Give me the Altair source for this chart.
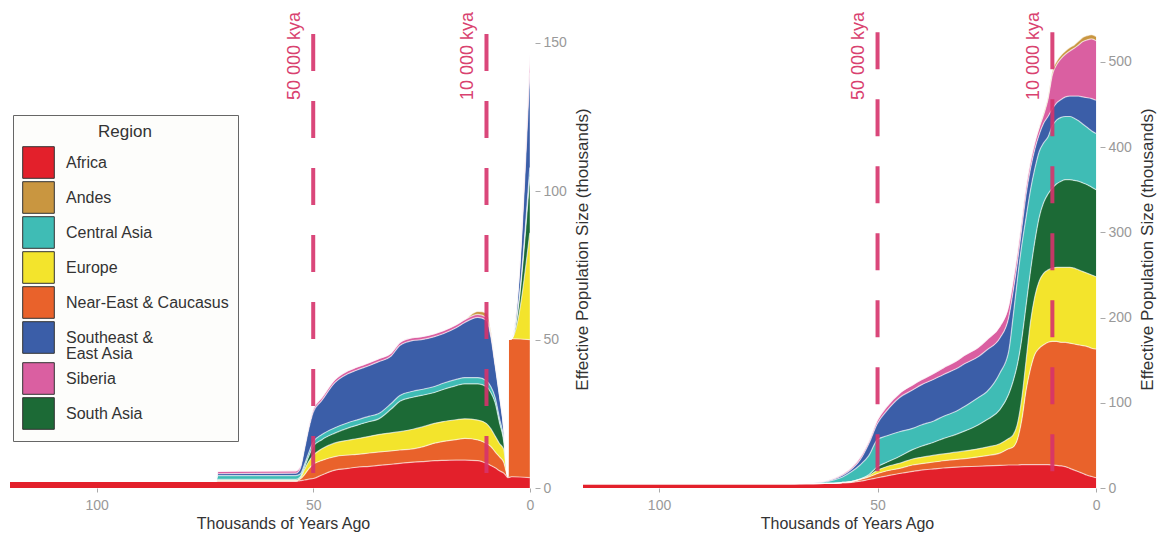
import altair as alt
import pandas as pd

# ---------------- categories & colours ----------------
LEGEND_ORDER = ["Africa", "Andes", "Central Asia", "Europe", "Near-East & Caucasus",
                "Southeast & East Asia", "Siberia", "South Asia"]
COLORS = ["#e3202b", "#c99640", "#3fbcb5", "#f3e42c", "#e9622b",
          "#3b5ea8", "#da5fa1", "#1c6a36"]
STACK_ORDER = ["Africa", "Near-East & Caucasus", "Europe", "South Asia",
               "Central Asia", "Southeast & East Asia", "Siberia", "Andes"]

# ---------------- left panel (thousands of years ago) ----------------
KYA_L = [120, 72.5, 72, 54, 53, 52, 51, 50, 48, 45, 42, 40, 37, 35, 32, 30, 27, 25,
         22, 20, 17, 15, 12, 10, 9, 8, 7, 6, 5.5, 5.1, 5.0, 4.2, 0]
AFRICA_L = [2.2, 2.2, 2.2, 2.2, 2.5, 2.7, 3.0, 3.2, 4.4, 6.0, 6.6, 7.0, 7.3, 7.6, 8.0, 8.3, 8.7, 8.9,
            9.2, 9.3, 9.4, 9.4, 9.2, 8.3, 7.6, 6.8, 5.8, 5.0, 4.2, 3.5, 3.5, 3.8, 3.5]
NEAREAST_L = [0, 0, 0.2, 0.2, 0.5, 1.8, 3.5, 4.8, 4.9, 4.6, 4.5, 4.3, 4.5, 4.5, 4.5, 4.5, 4.5, 4.9,
              5.9, 6.4, 6.9, 7.3, 7.0, 6.7, 6.4, 5.4, 4.7, 3.6, 1.5, 0.5, 46.5, 46.5, 46.5]
EUROPE_L = [0, 0, 0.2, 0.2, 0.4, 1.8, 2.5, 3.0, 3.9, 4.6, 5.0, 5.3, 5.6, 5.9, 6.1, 6.2, 6.6, 6.7,
            6.7, 6.7, 6.7, 6.6, 6.7, 6.7, 6.0, 5.3, 4.5, 4.4, 1.5, 0, 0, 0, 36]
SOUTHASIA_L = [0, 0, 0.3, 0.3, 0.3, 0.7, 1.8, 3.0, 3.1, 3.3, 4.1, 4.5, 5.0, 5.2, 8.0, 10.2, 10.8, 10.7,
               10.4, 10.8, 11.5, 11.8, 12.2, 12.4, 12.2, 11.2, 7.0, 2.5, 1.2, 0, 0, 0, 19]
CENTRALASIA_L = [0, 0, 1.3, 1.3, 1.0, 1.0, 1.2, 1.5, 1.7, 1.8, 1.8, 1.8, 1.8, 1.8, 1.9, 2.0, 2.0, 2.0,
                 2.0, 2.1, 2.1, 2.1, 2.1, 2.0, 2.0, 1.8, 1.5, 1.0, 0.5, 0, 0, 0, 3]
SEASIA_L = [0, 0, 0.6, 0.8, 1.8, 5.2, 8.1, 10, 11.5, 15.2, 16.5, 16.8, 17.1, 17.5, 16.0, 16.8, 17.1, 16.8,
            16.8, 16.7, 17.4, 18.6, 20.3, 20.4, 16.8, 10.7, 7.5, 3.0, 1.0, 0, 0, 0, 32]
SIBERIA_L = [0, 0, 0.8, 0.8, 0.8, 0.8, 0.9, 1.0, 1.0, 1.0, 1.0, 1.0, 1.0, 1.0, 1.0, 1.0, 1.0, 1.0,
             1.0, 1.0, 1.0, 1.0, 1.0, 1.0, 1.0, 0.8, 0.6, 0.5, 0.2, 0, 0, 0, 6]
ANDES_L = [0, 0, 0, 0, 0, 0, 0, 0, 0, 0, 0, 0, 0, 0, 0, 0, 0, 0,
           0, 0, 0, 0, 1.0, 1.5, 1.0, 0.3, 0, 0, 0, 0, 0, 0, 0]

# ---------------- right panel ----------------
KYA_R = [120, 75, 70, 65, 62, 60, 58, 56, 54, 52, 50, 48, 45, 42, 40, 37, 35, 32, 30, 27,
         25, 22, 20, 19, 18, 17, 16, 15, 14, 13, 12, 11, 10, 9, 8, 7, 6, 5, 4, 3, 2, 1, 0]
AFRICA_R = [5, 5, 5, 5.2, 5.3, 5.5, 6, 6.5, 8, 10, 12, 14, 17, 19.5, 21, 22.5, 23.5, 24.5, 25, 25.5,
            26, 26.5, 27, 27, 27, 27.5, 27.5, 27.5, 27.5, 27.5, 27.5, 27.5, 27, 26.5, 26, 25, 23, 21, 19, 17,
            15, 13.5, 12]
NEAREAST_R = [0, 0, 0, 0, 0, 0, 0.5, 1, 2, 3, 5, 6, 6, 7.5, 7.5, 8, 8.5, 9, 9.5, 11,
              12, 14.5, 19, 21, 30, 52.5, 87.5, 112.5, 129.5, 136.5, 140.5, 143.5, 145, 145.5, 145, 146,
              147, 148, 149, 150, 151, 150.5, 151]
EUROPE_R = [0, 0, 0, 0, 0, 0, 0, 0, 0.5, 1.5, 4, 5, 6, 7, 7.5, 8, 8, 8.5, 9, 9.5,
            10, 11, 12, 14, 18, 25, 35, 55, 68, 79, 84, 85, 86, 87, 88, 88, 89, 89, 88, 87, 86, 86, 85]
SOUTHASIA_R = [0, 0, 0, 0, 0, 0, 0, 0, 0, 1, 4, 5, 8, 11, 13, 15.5, 18, 21, 23.5, 28,
               32, 40, 52, 63, 70, 70, 65, 60, 65, 75, 83, 89, 94, 98, 101, 103, 103, 103, 104, 104,
               104, 103, 102]
CENTRALASIA_R = [0, 0, 0, 0.5, 1.7, 4, 6.5, 11.5, 16.5, 22.5, 32, 31, 29, 25, 25, 25, 26, 27, 29, 32,
                 33, 43, 50, 75, 100, 110, 103, 95, 85, 77, 70, 67, 73, 75, 75, 74, 74, 73, 71, 69,
                 67, 66, 66]
SEASIA_R = [0, 0, 0, 0.5, 0.8, 1, 2, 3, 6, 14, 19, 29, 40, 45, 47, 49, 49, 50, 50, 48,
            49, 41, 40, 30, 20, 20, 27, 25, 23, 20, 23, 24, 20, 20, 21, 23, 24, 26, 29, 32, 35, 38, 39]
SIBERIA_R = [0, 0, 0, 0.3, 0.5, 1, 1.5, 2, 3, 3, 4, 5, 5, 6, 6, 7, 8, 9, 10, 11,
             12, 14, 14, 13, 12, 11, 10, 9, 8, 8, 10, 20, 40, 45, 48, 50, 53, 56, 60, 65, 68, 70, 70]
ANDES_R = [0] * 29 + [1, 2, 3, 4, 4, 4, 4, 4, 4, 4.5, 5, 5, 5, 5]

# reference lines
VLINE_KYA = [50, 10]
VLINE_LABELS = ["50 000 kya", "10 000 kya"]

LEFT = {"Africa": AFRICA_L, "Near-East & Caucasus": NEAREAST_L, "Europe": EUROPE_L,
        "South Asia": SOUTHASIA_L, "Central Asia": CENTRALASIA_L,
        "Southeast & East Asia": SEASIA_L, "Siberia": SIBERIA_L, "Andes": ANDES_L}
RIGHT = {"Africa": AFRICA_R, "Near-East & Caucasus": NEAREAST_R, "Europe": EUROPE_R,
         "South Asia": SOUTHASIA_R, "Central Asia": CENTRALASIA_R,
         "Southeast & East Asia": SEASIA_R, "Siberia": SIBERIA_R, "Andes": ANDES_R}


def to_df(kya, series):
    rows = []
    for region, vals in series.items():
        for k, v in zip(kya, vals):
            rows.append({"kya": k, "value": v, "region": region,
                         "rank": STACK_ORDER.index(region)})
    return pd.DataFrame(rows)


vdf = pd.DataFrame({"kya": VLINE_KYA, "label": VLINE_LABELS})

FONT = "Liberation Sans"
RED = "#d6336c"


def panel(df, xdom, ydom, yticks, width, legend, title_x, rule_top):
    base = alt.Chart(df).transform_stack(
        stack="value", groupby=["kya"], as_=["y0", "y1"],
        sort=[alt.SortField("rank", order="ascending")])
    xenc = alt.X("kya:Q",
                 scale=alt.Scale(domain=xdom, reverse=True, nice=False, zero=False),
                 axis=alt.Axis(values=[100, 50, 0], title="Thousands of Years Ago",
                               domain=False, grid=False, tickSize=4, tickColor="#aaaaaa",
                               labelColor="#999999", labelFontSize=14, labelPadding=6,
                               titleFontSize=16, titleFontWeight="normal", titleColor="#333333",
                               titlePadding=3, titleX=title_x, labelFont=FONT, titleFont=FONT))
    yscale = alt.Scale(domain=ydom, nice=False, zero=True)
    yenc = alt.Y("y1:Q", scale=yscale,
                 axis=alt.Axis(orient="right", values=yticks,
                               title="Effective Population Size (thousands)",
                               domain=False, grid=False, tickSize=5, tickColor="#aaaaaa",
                               labelColor="#999999", labelFontSize=14, labelPadding=3,
                               titleFontSize=17, titleFontWeight="normal", titleColor="#333333",
                               titleAngle=270, titleBaseline="top", titlePadding=8,
                               labelFont=FONT, titleFont=FONT))
    color = alt.Color("region:N", scale=alt.Scale(domain=LEGEND_ORDER, range=COLORS),
                      legend=legend)
    area = base.mark_area(clip=True, interpolate="monotone").encode(
        x=xenc, y=yenc, y2="y0:Q", color=color)
    lines = base.mark_line(clip=True, interpolate="monotone", color="white",
                           strokeWidth=1.2, opacity=0.6).encode(
        x="kya:Q", y="y1:Q", detail="region:N")
    rules = alt.Chart(vdf).mark_rule(color=RED, strokeWidth=4, strokeDash=[37, 30],
                                     opacity=0.9).encode(
        x="kya:Q", y=alt.datum(rule_top), y2=alt.datum(0))
    texts = alt.Chart(vdf).transform_calculate(lx="datum.kya + 2.1").mark_text(
        angle=270, align="right", baseline="bottom", fontSize=18, font=FONT,
        color="#d9426f").encode(x="lx:Q", y=alt.value(2), text="label:N")
    return alt.layer(area, lines, rules, texts).properties(width=width, height=478)


legend_left = alt.Legend(
    orient="none", legendX=3, legendY=105, title="Region", titleAnchor="middle",
    titleFontSize=17, titleFontWeight="normal", titleColor="#333333", titleFont=FONT,
    labelFontSize=16, labelColor="#333333", labelFont=FONT, symbolType="square",
    symbolSize=1000, symbolStrokeColor="#333333", symbolStrokeWidth=1, symbolOpacity=1,
    padding=9, strokeColor="#666666", fillColor="#fdfdfb", rowPadding=-8,
    labelOffset=11, labelLimit=300, titlePadding=5,
    labelExpr="datum.label == 'Southeast & East Asia' ? ['Southeast &', 'East Asia'] : datum.label")

left = panel(to_df(KYA_L, LEFT), [-1.2, 120], [0, 161.1], [0, 50, 100, 150], 525,
             legend_left, 273, 153)
right = panel(to_df(KYA_R, RIGHT), [-0.9, 117.4], [0, 561], [0, 100, 200, 300, 400, 500], 517,
              None, 264, 535)

chart = alt.hconcat(left, right, spacing=48, bounds="flush").resolve_scale(
    color="independent", x="independent", y="independent"
).properties(
    padding={"left": 2, "top": 2, "right": 2, "bottom": 2}
).configure(
    background="white",
    style={"guide-label": {"lineHeight": 16}}
).configure_view(
    strokeWidth=0
)

chart.save("out.html", embed_options={"renderer": "svg", "actions": False})
